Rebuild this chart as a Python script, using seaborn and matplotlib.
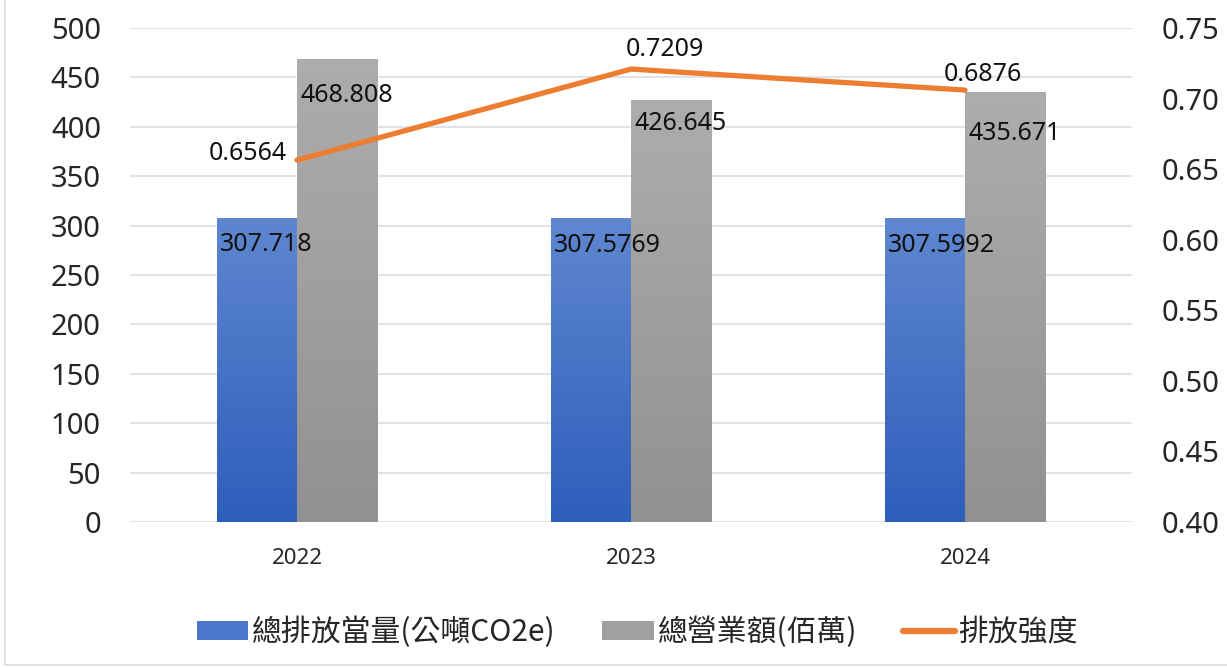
import matplotlib
matplotlib.use("Agg")
import matplotlib.pyplot as plt
from matplotlib.colors import LinearSegmentedColormap
from matplotlib.lines import Line2D
from matplotlib.patches import Patch, Rectangle
import numpy as np
import pandas as pd
import seaborn as sns

years = ["2022", "2023", "2024"]
emissions = [307.718, 307.5769, 307.5992]
revenue = [468.808, 426.645, 435.671]
intensity = [0.6564, 0.7209, 0.7060]
intensity_labels = ["0.6564", "0.7209", "0.6876"]
series_names = ["總排放當量(公噸CO2e)", "總營業額(佰萬)", "排放強度"]
left_ticks = [0, 50, 100, 150, 200, 250, 300, 350, 400, 450, 500]
right_ticks = [0.40, 0.45, 0.50, 0.55, 0.60, 0.65, 0.70, 0.75]

sns.set_style("white")
plt.rcParams["font.family"] = ["Noto Sans", "Noto Sans CJK TC", "DejaVu Sans"]

df = pd.DataFrame({
    "year": years * 2,
    "value": emissions + revenue,
    "series": [series_names[0]] * 3 + [series_names[1]] * 3,
})

fig = plt.figure(figsize=(12.27, 6.68), dpi=100)
ax = fig.add_axes([0.106, 0.2186, 0.8166, 0.7395])

blue_top, blue_bot = "#5F87D0", "#2E5EBC"
gray_top, gray_bot = "#ADADAD", "#919191"

sns.barplot(data=df, x="year", y="value", hue="series",
            palette=[blue_bot, gray_bot], width=0.48, gap=0,
            legend=False, ax=ax, zorder=2)

ax.set_xlim(-0.5, 2.5)
ax.set_ylim(0, 500)
ax.set_yticks(left_ticks)
ax.set_xlabel("")
ax.set_ylabel("")
ax.grid(axis="y", color="#E0E3E8", linewidth=1.5, zorder=0)
ax.set_axisbelow(True)
for s in ax.spines.values():
    s.set_visible(False)
ax.tick_params(axis="y", labelsize=21, length=0, pad=21)
ax.tick_params(axis="x", labelsize=16, length=0, pad=19)

# gradient fill on each bar
cmaps = [LinearSegmentedColormap.from_list("b", [blue_bot, blue_top]),
         LinearSegmentedColormap.from_list("g", [gray_bot, gray_top])]
grad = np.linspace(0, 1, 256).reshape(-1, 1)
bars = list(ax.patches)
for i, bar in enumerate(bars):
    x0, w, h = bar.get_x(), bar.get_width(), bar.get_height()
    im = ax.imshow(grad, extent=[x0, x0 + w, 0, h], origin="lower",
                   aspect="auto", cmap=cmaps[i // 3], zorder=2.1)
    im.set_clip_path(bar)
ax.set_xlim(-0.5, 2.5)
ax.set_ylim(0, 500)

# bar labels
blue_off = [27, 27, 27]
gray_off = [37, 23, 42]
for i, bar in enumerate(bars):
    val = df["value"][i]
    off = blue_off[i % 3] if i < 3 else gray_off[i % 3]
    ax.text(bar.get_x() + 0.01, val - off / 0.988, str(val),
            fontsize=18, ha="left", va="center", color="#111111", zorder=5)

ax2 = ax.twinx()
sns.lineplot(x=[0, 1, 2], y=intensity, color="#ED7D31", linewidth=3.8,
             ax=ax2, zorder=4, solid_capstyle="round")
ax2.set_ylim(0.40, 0.75)
ax2.set_yticks(right_ticks)
ax2.set_yticklabels([f"{t:.2f}" for t in right_ticks])
ax2.tick_params(axis="y", labelsize=21, length=0, pad=21)
for s in ax2.spines.values():
    s.set_visible(False)

line_pos = [(-0.03, 0.005, "right"), (-0.015, 0.014, "left"),
            (-0.065, 0.011, "left")]
for i, v in enumerate(intensity):
    dx, dy, ha = line_pos[i]
    ax2.text(i + dx, v + dy, intensity_labels[i], fontsize=18, ha=ha,
             va="center", color="#111111", zorder=5)

handles = [Patch(facecolor="#4B76C9", edgecolor="none"),
           Patch(facecolor="#A0A0A0", edgecolor="none"),
           Line2D([0], [0], color="#ED7D31", linewidth=4.5,
                  solid_capstyle="round")]
fig.legend(handles, series_names, loc="center", ncol=3,
           bbox_to_anchor=(0.5196, 0.054), frameon=False,
           prop={"family": ["Noto Sans CJK TC", "DejaVu Sans"],
                 "size": 21.5},
           handlelength=1.72, handleheight=0.6, handletextpad=0.13,
           columnspacing=1.55)

fig.patches.append(Rectangle((0.004, 0.004), 1.2, 1.2,
                             transform=fig.transFigure, fill=False,
                             edgecolor="#D9D9D9", linewidth=1.2))

fig.savefig("out.png", dpi=100)
